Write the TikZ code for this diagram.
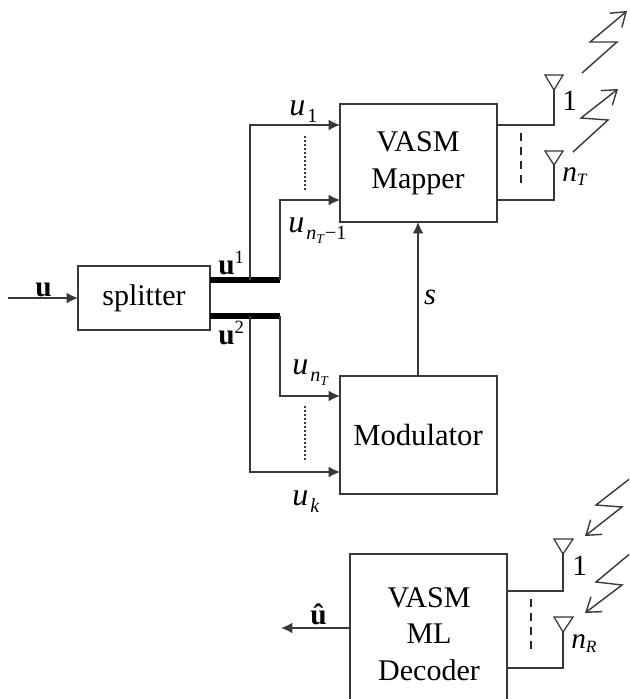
\documentclass[tikz,border=0pt]{standalone}
\usepackage{fontspec}
\setmainfont{Liberation Serif}
\usetikzlibrary{arrows.meta}
\definecolor{ln}{gray}{0.22}
\newcommand{\fsz}[1]{\fontsize{#1}{#1}\selectfont}
\newcommand{\usub}[1]{{\fsz{24}\textit{u}}\kern1.5pt\raisebox{-5.5pt}{\fsz{15}#1}}
\newcommand{\nsub}{\textit{n}\raisebox{-3pt}{\fsz{10}\textit{T}}}
\tikzset{
 x=0.75pt,y=-0.75pt,
 wire/.style={draw=ln,line width=0.95pt},
 sig/.style={wire,-{Latex[length=8.5pt,width=8pt]}},
 blockbox/.style={draw=ln,line width=0.95pt,fill=white},
 bar/.style={line width=4.5pt,black},
 dots/.style={draw=ln,line width=0.9pt,dash pattern=on 1.8pt off 1.2pt},
 dashes/.style={draw=black!85,line width=1.6pt,dash pattern=on 6pt off 4.5pt},
 bolt/.style={draw=ln,line width=1.05pt,-{Straight Barb[length=10pt,width=14pt]}},
 ant/.style={draw=ln,line width=0.95pt},
 lab/.style={inner sep=0pt,font=\fsz{23}},
 txt/.style={inner sep=0pt,anchor=base west},
}
\begin{document}
\begin{tikzpicture}
\useasboundingbox (0,0) rectangle (629,699);
\clip (0,0) rectangle (629,699);
\fill[white] (0,0) rectangle (629,699);
% boxes
\path[blockbox] (78,266) rectangle (210,330);
\node[lab,font=\fsz{22.5}] (splitter) at (144,298) {splitter};
\path[blockbox] (340,104) rectangle (497,222);
\node[lab,align=center,font=\fontsize{22.5}{27.5}\selectfont] (mapper) at (418,163) {VASM\\Mapper};
\path[blockbox] (340,376) rectangle (497,494);
\node[lab,font=\fsz{23}] (mod) at (418,435) {Modulator};
\path[blockbox] (350,554) rectangle (507,710);
\node[lab,align=center,font=\fontsize{22.5}{27.5}\selectfont] (dec) at (429,634) {VASM\\ML\\Decoder};
% coordinates
\coordinate (in) at (8,298);
\coordinate (splitin) at (78,298);
\coordinate (b1a) at (210,280); \coordinate (b1b) at (280,280);
\coordinate (b2a) at (210,316); \coordinate (b2b) at (280,316);
\coordinate (m1) at (340,125); \coordinate (m2) at (340,200);
\coordinate (mo1) at (340,396); \coordinate (mo2) at (340,472);
% signals
\draw[sig] (in) -- (splitin);
\draw[bar] (b1a) -- (b1b);
\draw[bar] (b2a) -- (b2b);
\draw[sig] (250,280) |- (m1);
\draw[sig] (b1b) |- (m2);
\draw[sig] (b2b) |- (mo1);
\draw[sig] (250,316) |- (mo2);
\draw[dots] (305,136) -- (305,191);
\draw[dots] (305,406) -- (305,462);
\draw[sig] (418,376) -- (418,222);
\draw[sig] (350,628) -- (281,628);
% labels
\node[txt] (lu) at (35,296) {\fsz{22}\textbf{u}};
\node[txt] (lu1) at (218,274) {\fsz{22}\textbf{u}\raisebox{8pt}{\fsz{14}1}};
\node[txt] (lu2) at (218,344) {\fsz{22}\textbf{u}\raisebox{8pt}{\fsz{14}2}};
\node[txt] (l1) at (289,115) {\usub{1}};
\node[txt] (l2) at (288,232) {\usub{\nsub\kern0.5pt−1}};
\node[txt] (l3) at (292,374) {\usub{\nsub}};
\node[txt] (l4) at (292,505) {\usub{\textit{k}}};
\node[lab,font=\fsz{23}\itshape] (ls) at (430,297) {s};
\node[txt] (lhat) at (310,624) {\fsz{22}\textbf{û}};
% transmit antennas
\draw[wire] (497,125) -| (554,90);
\draw[ant] (545,75) -- (563,75) -- (554,90) -- cycle;
\draw[wire] (497,200) -| (554,165);
\draw[ant] (545,151) -- (563,151) -- (554,165) -- cycle;
\draw[dashes] (521,133) -- (521,187);
\node[txt] (a1) at (562,110) {\fsz{22}1};
\node[txt] (ant) at (562,181) {\fsz{22}\textit{n}\raisebox{-3.5pt}{\fsz{13}\textit{T}}};
\draw[bolt] (582,73) -- (617,42) -- (590,42) -- (627,11);
\draw[bolt] (573,152) -- (608,120) -- (581,118) -- (618,89);
% receive antennas
\draw[wire] (507,591) -| (563,554);
\draw[ant] (554,539) -- (573,539) -- (563,554) -- cycle;
\draw[wire] (507,668) -| (563,632);
\draw[ant] (554,617) -- (573,617) -- (563,632) -- cycle;
\draw[dashes] (531,599) -- (531,653);
\node[txt] (r1) at (572,575) {\fsz{22}1};
\node[txt] (rnt) at (571,648) {\fsz{22}\textit{n}\raisebox{-3.5pt}{\fsz{13}\textit{R}}};
\draw[bolt] (632,477) -- (596,505) -- (622,507) -- (585,536);
\draw[bolt] (632,552) -- (596,582) -- (622,585) -- (585,613);
\end{tikzpicture}
\end{document}
